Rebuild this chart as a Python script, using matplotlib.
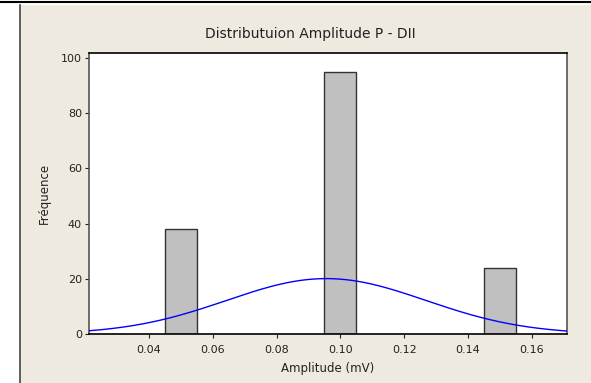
import numpy as np
import matplotlib.pyplot as plt
from matplotlib.patches import Rectangle
from matplotlib.lines import Line2D

# histogram bins (amplitude in mV) and counts
bin_centers = [0.05, 0.10, 0.15]
counts = [38, 95, 24]
bin_width = 0.01
xticks = [0.04, 0.06, 0.08, 0.10, 0.12, 0.14, 0.16]
yticks = [0, 20, 40, 60, 80, 100]

beige = '#EEEAE0'

fig = plt.figure(figsize=(5.91, 3.83), dpi=100)
fig.patch.set_facecolor('white')

# background panel and top rule
fig.patches.append(Rectangle((20/591, 0), 1 - 20/591, 378/383, transform=fig.transFigure,
                             facecolor=beige, edgecolor='none', zorder=-5))
fig.lines.append(Line2D([20/591, 20/591], [0, 378/383], transform=fig.transFigure,
                        color='#444444', lw=1.2, zorder=-4))
fig.lines.append(Line2D([0, 1], [381.5/383, 381.5/383], transform=fig.transFigure,
                        color='black', lw=1.5, zorder=-4))

ax = fig.add_axes([89/591, 49/383, 478/591, 281/383])
ax.set_zorder(5)
ax.set_facecolor('white')

ax.bar(bin_centers, counts, width=bin_width, color='#C0C0C0', edgecolor='#333333',
       linewidth=1.0, zorder=2)

# fitted normal curve scaled to the counts
values = np.array(bin_centers)
n = np.array(counts)
N = n.sum()
mean = (values * n).sum() / N
sd = np.sqrt((n * (values - mean) ** 2).sum() / (N - 1))
xs = np.linspace(0.0212, 0.171, 300)
ys = N * bin_width / (sd * np.sqrt(2 * np.pi)) * np.exp(-0.5 * ((xs - mean) / sd) ** 2)
ax.plot(xs, ys, color='#0000FF', lw=1.0, zorder=3)

ax.set_xlim(0.0212, 0.171)
ax.set_ylim(0, 101.8)
ax.set_xticks(xticks)
ax.set_xticklabels(['%.2f' % t for t in xticks])
ax.set_yticks(yticks)
ax.tick_params(direction='out', length=3, width=0.8, labelsize=8, colors='#222222', pad=2)
ax.tick_params(axis='x', pad=5)

for side in ['top', 'bottom']:
    ax.spines[side].set_color('black')
    ax.spines[side].set_linewidth(1.2)
for side in ['left', 'right']:
    ax.spines[side].set_color('#555555')
    ax.spines[side].set_linewidth(1.2)

ax.set_xlabel('Amplitude (mV)', fontsize=8.5, color='#222222', labelpad=5)
ax.set_ylabel('Fréquence', fontsize=8.5, color='#222222', labelpad=7)
fig.text(310/591, 1 - 34/383, 'Distributuion Amplitude P - DII', ha='center', va='center',
         fontsize=10, color='#222222')

fig.savefig('out.png', dpi=100, facecolor=fig.get_facecolor())
